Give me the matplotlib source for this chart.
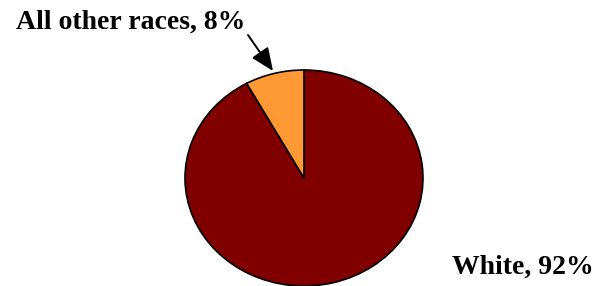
import matplotlib
matplotlib.use("Agg")
import matplotlib.pyplot as plt

labels = ["White", "All other races"]
shares = [92, 8]
label_text = ["White, 92%", "All other races, 8%"]
colors = ["#800000", "#FF9933"]

W, H = 602, 286
fig = plt.figure(figsize=(W / 100, H / 100), dpi=100)
fig.patch.set_facecolor("white")

# pie is slightly squashed vertically in the original
cx, cy, rx, ry = 304, 108, 119, 108
ax = fig.add_axes([(cx - rx) / W, (cy - ry) / H, 2 * rx / W, 2 * ry / H])
wedges, _ = ax.pie(shares, colors=colors, startangle=90, counterclock=False,
                   wedgeprops=dict(edgecolor="black", linewidth=1.2))
for w in wedges:
    w.set_clip_on(False)
ax.set_xlim(-1, 1)
ax.set_ylim(-1, 1)
ax.set_aspect("auto")
ax.axis("off")

font = dict(family="Liberation Serif", fontweight="bold", fontsize=20)
fig.text(16 / W, (H - 29) / H, label_text[1], ha="left", va="baseline", **font)
fig.text(594 / W, (H - 274) / H, label_text[0], ha="right", va="baseline", **font)

fig.add_artist(matplotlib.patches.FancyArrowPatch(
    (248 / W, (H - 35) / H), (273 / W, (H - 71) / H),
    transform=fig.transFigure, arrowstyle="-|>,head_length=0.7,head_width=0.3",
    mutation_scale=20, color="black", linewidth=1.4, shrinkA=0, shrinkB=0))

fig.savefig("out.png", dpi=100)
